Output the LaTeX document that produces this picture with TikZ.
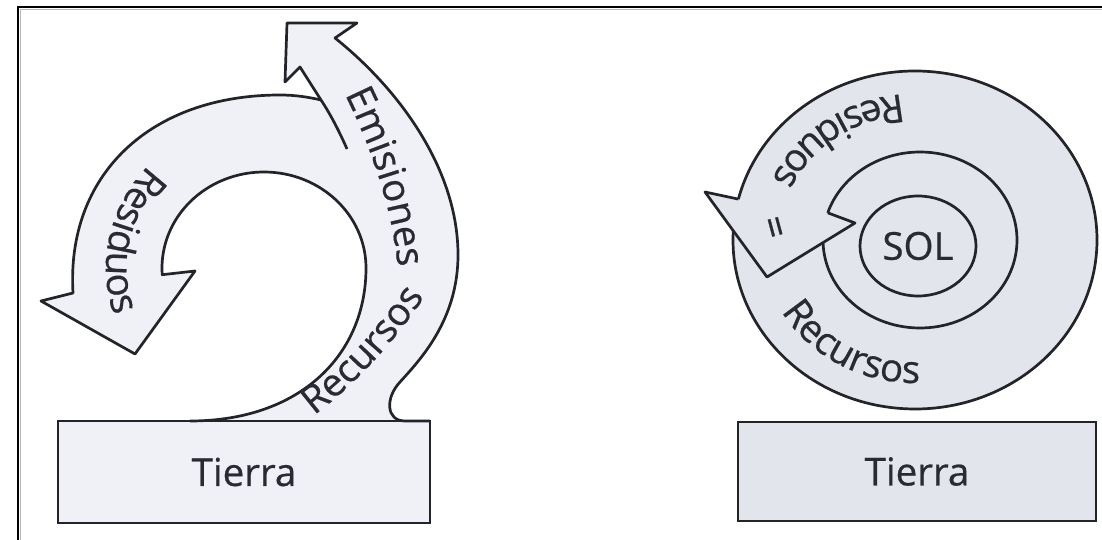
\documentclass[tikz,border=0pt]{standalone}
\usepackage{fontspec}
\setmainfont{Open Sans}
\newfontfamily\lblfam{Open Sans}[FakeBold=0.6]
\usetikzlibrary{decorations.text}
\definecolor{lfill}{RGB}{239,241,246}
\definecolor{rfill}{RGB}{227,229,236}
\definecolor{ink}{RGB}{35,35,42}
\definecolor{txtc}{RGB}{42,42,50}
\newcommand\lblfont{\lblfam\fontsize{38.5}{44}\selectfont}
\begin{document}
\begin{tikzpicture}[x=1pt,y=1pt,
  edge/.style={draw=ink, line width=2.7pt, line join=round},
  box/.style={draw=ink, line width=2.7pt, text=txtc, font=\lblfont, inner sep=0pt},
  lbl/.style={text=txtc, font=\lblfont, inner sep=0pt},
  curvlbl/.style={decorate, decoration={text along path, text align=center, text color=txtc, text={|\lblfont|#1}}}]
\useasboundingbox (0,0) rectangle (1102,-540);
\fill[white] (0,0) rectangle (1102,-540);
% frame
\draw[gray!55, line width=1.4pt] (20.5,-9.4) -- (1102,-9.4);
\draw[gray!55, line width=1.4pt] (20.4,-9.4) -- (20.4,-540);
\draw[black, line width=2.4pt] (17,-7) -- (1102,-7);
\draw[black, line width=2.4pt] (18,-7) -- (18,-540);
% ---------- left diagram ----------
\fill[lfill] (190,-421) .. controls (300,-421) and (366,-355) .. (366,-268)
  arc[start angle=0, end angle=184, x radius=102, y radius=96]
  -- (195,-271) -- (135,-354) -- (41,-301) -- (73,-293)
  .. controls (66,-175) and (150,-95) .. (280,-95)
  .. controls (295,-95) and (308,-97) .. (321,-100)
  -- (300,-67) -- (285,-82) -- (287,-23) -- (357,-23) -- (335,-38)
  .. controls (400,-90) and (458,-170) .. (458,-255)
  .. controls (458,-320) and (420,-360) .. (400,-382)
  .. controls (385,-398) and (386,-421) .. (405,-421)
  -- cycle;
\node[box, fill=lfill, minimum width=372pt, minimum height=102pt] (tierraL) at (244,-472) {Tierra};
\draw[edge] (190,-421) .. controls (300,-421) and (366,-355) .. (366,-268)
  arc[start angle=0, end angle=184, x radius=102, y radius=96]
  -- (195,-271) -- (135,-354) -- (41,-301) -- (73,-293)
  .. controls (66,-175) and (150,-95) .. (280,-95)
  .. controls (295,-95) and (308,-97) .. (321,-100);
\draw[edge] (347,-149) .. controls (340,-133) and (331,-115) .. (321,-100)
  -- (300,-67) -- (285,-82) -- (287,-23) -- (357,-23) -- (335,-38)
  .. controls (400,-90) and (458,-170) .. (458,-255)
  .. controls (458,-320) and (420,-360) .. (400,-382)
  .. controls (385,-398) and (386,-421) .. (405,-421) -- (430,-421);
\path[curvlbl=Emisiones] (330,-65) .. controls (370,-140) and (398,-215) .. (400,-300);
\path[curvlbl=Recursos] (290,-432) .. controls (350,-394) and (405,-332) .. (440,-272);
\path[curvlbl=Residuos] (209.96,-127.05) arc[start angle=110, end angle=226, x radius=158, y radius=150];
% ---------- right diagram ----------
\fill[rfill] (915,-240) ellipse[x radius=182, y radius=169];
\fill[rfill] (705,-192) -- (767,-277) -- (855,-223) -- (828,-213) -- (738,-200) -- cycle;
\draw[edge] (733.25,-231.15) arc[start angle=177, end angle=526, x radius=182, y radius=169];
\draw[edge] (823.06,-243.07) arc[start angle=182, end angle=522, x radius=97, y radius=88];
\draw[edge] (738.4,-199.1) -- (705,-192) -- (767,-277) -- (855,-223) -- (827.75,-212.8);
\draw[edge] (918,-246) ellipse[x radius=58, y radius=50];
\node[lbl] (sol) at (918,-246) {SOL};
\node[lbl, rotate=-75] (eq) at (771,-228) {=};
\path[curvlbl=Residuos] (968.7,-102.8) arc[start angle=70, end angle=182, x radius=157, y radius=146];
\path[curvlbl=Recursos] (761,-240) arc[start angle=180, end angle=300, x radius=154, y radius=143];
\node[box, fill=rfill, minimum width=358pt, minimum height=99pt] (tierraR) at (917,-471.5) {Tierra};
\end{tikzpicture}
\end{document}
